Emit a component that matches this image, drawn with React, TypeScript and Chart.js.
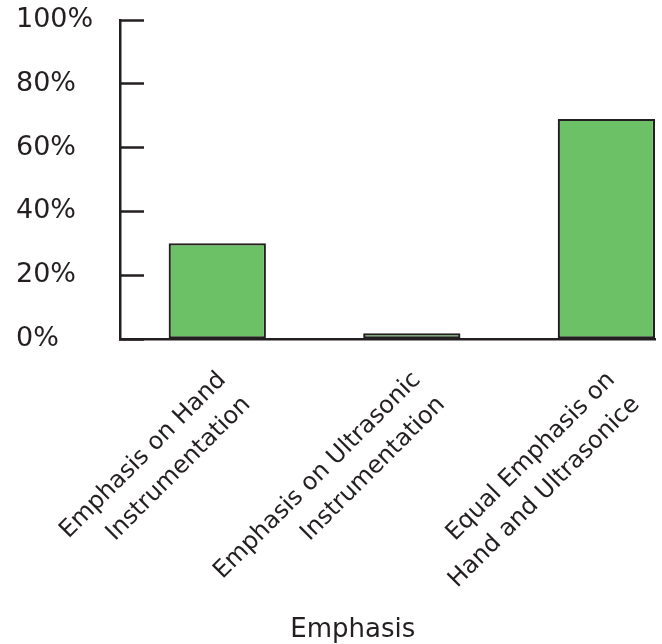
import React, { useEffect, useRef } from "react";
import { Chart, registerables } from "chart.js";

Chart.register(...registerables);

// Survey categories (two lines each) and the share of respondents per category (%)
const categories: string[][] = [
  ["Emphasis on Hand", "Instrumentation"],
  ["Emphasis on Ultrasonic", "Instrumentation"],
  ["Equal Emphasis on", "Hand and Ultrasonice"],
];
const shares: number[] = [30, 1.8, 69];
const yTicks: number[] = [0, 20, 40, 60, 80, 100];
const axisTitle = "Emphasis";

const INK = "#231F20";
const BAR_FILL = "#6CC065";
const FONT = '"DejaVu Sans", Verdana, sans-serif';

// Draws the x-axis caption below the rotated category labels
const axisTitlePlugin = {
  id: "axisTitleCaption",
  afterDraw(chart: Chart) {
    const { ctx } = chart;
    ctx.save();
    ctx.font = `26px ${FONT}`;
    ctx.fillStyle = INK;
    ctx.textAlign = "center";
    ctx.textBaseline = "alphabetic";
    ctx.fillText(axisTitle, chart.width * 0.533, chart.height - 7);
    ctx.restore();
  },
};

export default function App() {
  const canvasRef = useRef<HTMLCanvasElement | null>(null);

  useEffect(() => {
    document.body.style.margin = "0";
    const canvas = canvasRef.current;
    if (!canvas) return;

    const chart = new Chart(canvas, {
      type: "bar",
      data: {
        datasets: [
          {
            data: shares.map((y, i) => ({ x: i, y })),
            backgroundColor: BAR_FILL,
            borderColor: INK,
            borderWidth: 2.2,
            borderSkipped: false,
            categoryPercentage: 1,
            barPercentage: 0.5,
          },
        ],
      },
      options: {
        animation: false,
        responsive: false,
        layout: { padding: { left: 16, top: 20, right: 7, bottom: 0 } },
        plugins: {
          legend: { display: false },
          tooltip: { enabled: false },
        },
        scales: {
          x: {
            type: "linear",
            offset: false,
            min: -0.5,
            max: 2.25,
            afterBuildTicks: (scale: any) => {
              scale.ticks = categories.map((_, i) => ({ value: i }));
            },
            afterFit: (scale: any) => {
              scale.height = 305;
              scale.paddingLeft = 0;
              scale.paddingRight = 0;
            },
            grid: { display: false, drawTicks: false, offset: false },
            border: { display: true, color: INK, width: 2.5 },
            ticks: {
              autoSkip: false,
              minRotation: 45,
              maxRotation: 45,
              padding: 25,
              labelOffset: 5,
              color: INK,
              font: { family: FONT, size: 24, lineHeight: 1.45 },
              callback: (value: any) => categories[value as number] ?? "",
            },
          },
          y: {
            min: 0,
            max: 100,
            afterBuildTicks: (scale: any) => {
              scale.ticks = yTicks.map((v) => ({ value: v }));
            },
            afterFit: (scale: any) => {
              scale.width = 104;
            },
            grid: {
              drawOnChartArea: false,
              tickLength: -24,
              tickWidth: 2.5,
              tickColor: INK,
            },
            border: { display: true, color: INK, width: 2.5 },
            ticks: {
              crossAlign: "far",
              padding: 0,
              color: INK,
              font: { family: FONT, size: 27 },
              callback: (value: any) => `${value}%`,
            },
          },
        },
      },
      plugins: [axisTitlePlugin],
    });

    return () => chart.destroy();
  }, []);

  return (
    <div style={{ width: 662, height: 644 }}>
      <canvas ref={canvasRef} width={662} height={644} />
    </div>
  );
}
